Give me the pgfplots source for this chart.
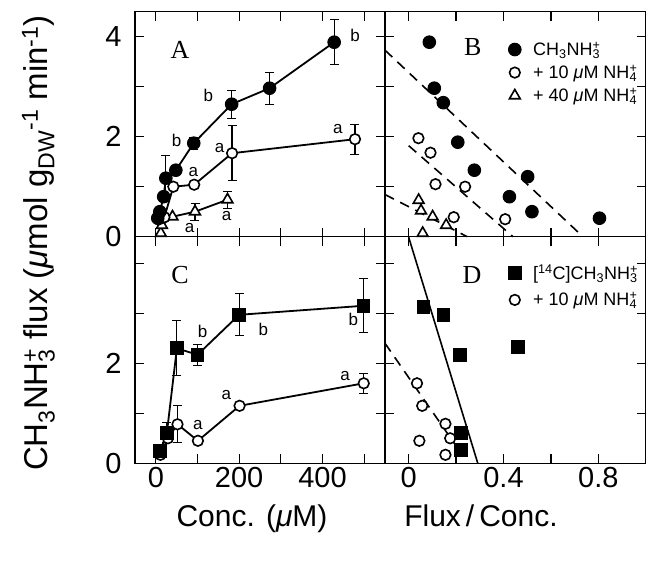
\documentclass[border=0pt]{standalone}
\usepackage{pgfplots}
\pgfplotsset{compat=1.18}
\usepackage{fontspec}
\setmainfont{Liberation Sans}
\newfontfamily\serif{Liberation Serif}
\newcommand{\sbsp}[2]{\makebox[0pt][l]{\textsuperscript{#2}}\textsubscript{#1}}
\newcommand{\mmu}{{\itshape μ}}

\pgfplotstableread{
x y e
4.6 0.37 0
9.6 0.50 0
18.8 0.80 0
24 1.17 0.46
48 1.33 0
91 1.87 0.12
182 2.65 0.28
273 2.97 0.32
428 3.89 0.45
}\Afill
\pgfplotstableread{
x y e
8.6 0.35 0
20.5 0.39 0
42 1.00 0
92 1.04 0
183 1.67 0.55
478 1.95 0.30
}\Aopen
\pgfplotstableread{
x y e
12 0.07 0
14.6 0.23 0
40 0.40 0
94 0.50 0.17
172 0.74 0.17
}\Atri
\pgfplotstableread{
x y
0.087 3.89
0.108 2.97
0.146 2.68
0.207 1.89
0.277 1.33
0.502 1.20
0.425 0.80
0.52 0.50
0.805 0.37
}\Bfill
\pgfplotstableread{
x y
0.041 1.97
0.092 1.68
0.113 1.05
0.238 1.00
0.19 0.39
0.407 0.35
}\Bopen
\pgfplotstableread{
x y
0.042 0.73
0.052 0.52
0.101 0.40
0.158 0.23
0.059 0.07
}\Btri
\pgfplotstableread{
x y e
10.5 0.25 0
26.5 0.61 0.20
50.5 2.30 0.55
100 2.17 0.21
200 2.97 0.42
498 3.15 0.54
}\Cfill
\pgfplotstableread{
x y e
11 0.17 0
29 0.50 0
52 0.78 0.37
101 0.45 0
201 1.15 0
499 1.60 0.20
}\Copen
\pgfplotstableread{
x y
0.062 3.13
0.146 2.97
0.217 2.17
0.46 2.32
0.221 0.61
0.221 0.27
}\Dfill
\pgfplotstableread{
x y
0.035 1.60
0.057 1.15
0.155 0.79
0.175 0.50
0.045 0.45
0.155 0.17
}\Dopen

\pgfplotsset{
  panel/.style={
    scale only axis, clip=false,
    tick align=inside, major tick length=9pt,
    axis line style={line width=1.5pt},
    every tick/.style={black, line width=1.3pt},
    tick label style={font=\fontsize{29}{30}\selectfont},
    /pgf/number format/assume math mode=true,
    yticklabel style={xshift=-10pt},
    legend cell align=left,
  },
  conn/.style={black, line width=1.8pt,
    error bars/y dir=both, error bars/y explicit,
    error bars/error bar style={line width=1.2pt, solid},
    error bars/error mark options={rotate=90, mark size=4.5pt, line width=1.2pt, black}},
  fcirc/.style={mark=*, mark size=6.3pt, mark options={solid, fill=black, line width=1pt}},
  ocirc/.style={mark=*, mark size=5.3pt, mark options={solid, fill=white, line width=1.6pt}},
  otri/.style={mark=triangle*, mark size=6.2pt, mark options={solid, fill=white, line width=1.6pt}},
  fsq/.style={mark=square*, mark size=6.3pt, mark options={solid, fill=black, line width=1pt}},
  pts/.style={only marks, black},
  dl/.style={black, line width=1.6pt, dash pattern=on 10pt off 7pt},
  leg/.style 2 args={legend style={at={(axis description cs:#1)}, anchor=north west, draw=none, fill=none,
    font=\fontsize{18}{21}\selectfont, row sep=#2, inner sep=0pt,
    /tikz/every odd column/.append style={column sep=10pt}}},
}
\tikzset{
  lab/.style={font=\fontsize{17}{18}\selectfont},
  plab/.style={font=\serif\fontsize{26}{28}\selectfont},
}

\begin{document}
\begin{tikzpicture}[x=1pt,y=1pt]
\path[use as bounding box] (0,0) rectangle (646,565);

% Panel A
\begin{axis}[panel, at={(135pt,328.3pt)}, anchor=south west,
  width=250pt, height=225pt, xmin=-50, xmax=550, ymin=0, ymax=4.5,
  xtick={0,100,...,500}, xticklabels={},
  ytick={0,1,2,3,4}, yticklabels={0,,2,,4}]
\addplot[conn, otri] table[x=x,y=y,y error=e] {\Atri};
\addplot[conn, ocirc] table[x=x,y=y,y error=e] {\Aopen};
\addplot[conn, fcirc] table[x=x,y=y,y error=e] {\Afill};
\node[plab] at (axis cs:58,3.73) {A};
\node[lab] at (axis cs:478,4.03) {b};
\node[lab] at (axis cs:126,2.83) {b};
\node[lab] at (axis cs:50,1.93) {b};
\node[lab] at (axis cs:90,1.30) {a};
\node[lab] at (axis cs:153,1.77) {a};
\node[lab] at (axis cs:437,2.15) {a};
\node[lab] at (axis cs:170,0.41) {a};
\node[lab] at (axis cs:81,0.17) {a};
\end{axis}

% Panel B
\begin{axis}[panel, at={(385pt,328.3pt)}, anchor=south west,
  width=260.7pt, height=225pt, xmin=-0.1, xmax=1.0, ymin=0, ymax=4.5,
  xtick={0,0.2,...,0.8}, xticklabels={},
  ytick={0,1,2,3,4}, yticklabels={},
  leg={0.473,0.875}{4pt}]
\addlegendimage{pts, fcirc}
\addlegendentry{CH\textsubscript{3}NH\sbsp{3}{+}}
\addlegendimage{pts, ocirc}
\addlegendentry{+ 10 \mmu M NH\sbsp{4}{+}}
\addlegendimage{pts, otri}
\addlegendentry{+ 40 \mmu M NH\sbsp{4}{+}}
\addplot[dl, forget plot] coordinates {(-0.1,3.73) (0.735,0)};
\addplot[dl, forget plot] coordinates {(0,1.82) (0.44,0)};
\addplot[dl, forget plot] coordinates {(-0.1,0.843) (0.247,0)};
\addplot[pts, otri, forget plot] table[x=x,y=y] {\Btri};
\addplot[pts, ocirc, forget plot] table[x=x,y=y] {\Bopen};
\addplot[pts, fcirc, forget plot] table[x=x,y=y] {\Bfill};
\node[plab] at (axis cs:0.27,3.8) {B};
\end{axis}

% Panel C
\begin{axis}[panel, at={(135pt,101.7pt)}, anchor=south west,
  width=250pt, height=226.6pt, xmin=-50, xmax=550, ymin=0, ymax=4.532,
  xtick={0,100,...,500}, xticklabels={0,,200,,400,},
  ytick={0,1,2,3,4}, yticklabels={0,,2,,}]
\addplot[conn, ocirc] table[x=x,y=y,y error=e] {\Copen};
\addplot[conn, fsq] table[x=x,y=y,y error=e] {\Cfill};
\node[plab] at (axis cs:58,3.77) {C};
\node[lab] at (axis cs:112,2.63) {b};
\node[lab] at (axis cs:258,2.68) {b};
\node[lab] at (axis cs:474,2.88) {b};
\node[lab] at (axis cs:101,0.77) {a};
\node[lab] at (axis cs:169,1.37) {a};
\node[lab] at (axis cs:454,1.75) {a};
\end{axis}

% Panel D
\begin{axis}[panel, at={(385pt,101.7pt)}, anchor=south west,
  width=260.7pt, height=226.6pt, xmin=-0.1, xmax=1.0, ymin=0, ymax=4.532,
  xtick={0,0.2,...,0.8}, xticklabels={0,,0.4,,0.8},
  ytick={0,1,2,3,4}, yticklabels={},
  leg={0.473,0.885}{7pt}]
\addlegendimage{pts, fsq}
\addlegendentry{[\textsuperscript{14}C]CH\textsubscript{3}NH\sbsp{3}{+}}
\addlegendimage{pts, ocirc}
\addlegendentry{+ 10 \mmu M NH\sbsp{4}{+}}
\addplot[black, line width=1.6pt, forget plot] coordinates {(0,4.52) (0.2915,0)};
\addplot[dl, forget plot] coordinates {(-0.1,2.40) (0.22,0.21)};
\addplot[pts, ocirc, forget plot] table[x=x,y=y] {\Dopen};
\addplot[pts, fsq, forget plot] table[x=x,y=y] {\Dfill};
\node[plab] at (axis cs:0.267,3.77) {D};
\end{axis}

% axis labels
\node[rotate=90, anchor=base, font=\fontsize{33}{36}\selectfont] at (47,322)
  {CH\textsubscript{3}NH\sbsp{3}{+} flux (\mmu mol g\textsubscript{DW}\textsuperscript{-1} min\textsuperscript{-1})};
\node[anchor=base, font=\fontsize{30}{32}\selectfont] at (252,38) {Conc. (\mmu M)};
\node[anchor=base, font=\fontsize{30}{32}\selectfont] at (481,38) {Flux\,/\,Conc.};
\end{tikzpicture}
\end{document}
